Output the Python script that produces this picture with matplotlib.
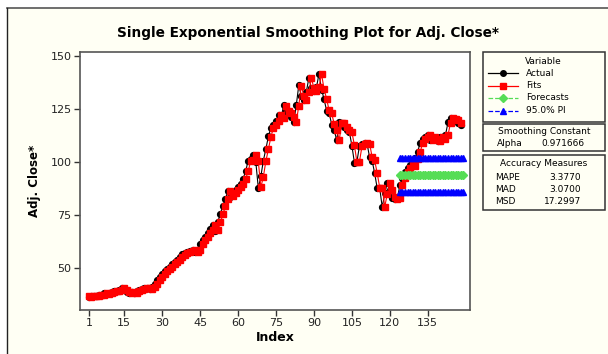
import matplotlib
matplotlib.use("Agg")
import matplotlib.pyplot as plt
from matplotlib.lines import Line2D
from matplotlib.patches import Rectangle

# ---------------- data ----------------
actual = [
    36.2, 36.5, 36.8, 36.4, 37.0, 37.3, 37.8, 37.5, 38.0, 38.4,
    38.8, 39.0, 39.6, 40.2, 39.5, 38.3, 38.0, 38.6, 38.2, 38.8,
    39.5, 40.0, 40.6, 40.2, 39.8,
    41.0, 42.5, 44.0, 45.5, 47.0, 48.5, 49.5, 50.5, 51.8, 52.5,
    53.5, 55.0, 56.2, 56.8, 57.5,
    58.0, 58.5, 57.5, 58.5, 61.0, 63.0, 64.5, 66.5, 68.0, 70.0,
    67.5, 71.5, 75.5, 79.0, 82.5, 86.0, 83.5, 85.0, 86.5, 88.0,
    89.5, 92.0, 95.5, 100.5, 101.0, 103.0, 100.0, 87.5, 93.0, 100.5,
    106.0, 112.0, 116.0, 117.5, 119.0,
    122.0, 120.5, 126.5, 124.0, 123.0, 121.0, 118.5, 126.5, 136.0, 131.0,
    129.0, 133.0, 139.5, 134.5, 133.5, 135.0, 141.5, 134.0, 129.5, 124.0,
    123.0, 117.5, 115.0, 110.0, 118.5,
    118.0, 116.5, 115.0, 114.0, 107.5, 99.5, 100.0, 107.5, 108.5, 109.0,
    108.5, 102.0, 100.5, 94.5, 87.5, 87.5, 78.5, 85.0, 90.0, 86.5,
    83.0, 82.5, 83.0, 89.0,
    92.5, 95.0, 97.0, 98.5, 98.0, 101.5, 104.5, 109.0, 110.5, 111.5,
    112.5, 110.0, 111.5, 110.5, 109.5, 111.5, 110.5, 112.5, 118.5, 120.5,
    120.0, 119.5, 118.0, 117.5,
]
alpha = 0.971666
forecast_start = 124
forecast_end = 149
forecast_level = 93.7
pi_lower_level = 85.6
pi_upper_level = 101.9
mape, mad, msd = "3.3770", "3.0700", "17.2997"
xticks = [1, 15, 30, 45, 60, 75, 90, 105, 120, 135]
yticks = [50, 75, 100, 125, 150]

# fitted values (one-step-ahead single exponential smoothing)
idx = list(range(1, len(actual) + 1))
level = sum(actual[:6]) / 6.0
fits = []
for v in actual:
    fits.append(level)
    level = alpha * v + (1 - alpha) * level

f_idx = list(range(forecast_start, forecast_end + 1))
f_vals = [forecast_level] * len(f_idx)
f_lo = [pi_lower_level] * len(f_idx)
f_hi = [pi_upper_level] * len(f_idx)

# ---------------- figure ----------------
W, H = 608, 354
fig = plt.figure(figsize=(W / 100, H / 100), dpi=100)
fig.patch.set_facecolor("white")
cream = "#fffff4"
fig.patches.append(Rectangle((7 / W, 0), 1, 1 - 8 / H, transform=fig.transFigure,
                             facecolor=cream, edgecolor="none", zorder=-10))
fig.lines.append(Line2D([7 / W, 1], [1 - 8 / H, 1 - 8 / H], transform=fig.transFigure,
                        color="#555555", lw=1.2, zorder=-5))
fig.lines.append(Line2D([7 / W, 7 / W], [0, 1 - 8 / H], transform=fig.transFigure,
                        color="#222222", lw=1.0, zorder=-5))

ax = fig.add_axes([80 / W, 1 - 310 / H, 390 / W, 258 / H])
ax.set_zorder(1)
ax.set_facecolor("white")

ax.plot(idx, actual, color="black", lw=0.8, marker="o", ms=4.2, mfc="black",
        mec="black", zorder=3)
ax.plot(idx, fits, color="red", lw=0.8, marker="s", ms=4.6, mfc="red",
        mec="red", zorder=4)
ax.plot(f_idx, f_lo, color="blue", lw=0.9, ls="--", marker="^", ms=5,
        mfc="blue", mec="blue", zorder=5)
ax.plot(f_idx, f_hi, color="blue", lw=0.9, ls="--", marker="^", ms=5,
        mfc="blue", mec="blue", zorder=5)
ax.plot(f_idx, f_vals, color="#55dd55", lw=0.9, ls="--", marker="D", ms=4.5,
        mfc="#55dd55", mec="#55dd55", zorder=5)

ax.set_xlim(-2.5, 151.7)
ax.set_ylim(30.0, 151.7)
ax.set_xticks(xticks)
ax.set_yticks(yticks)
ax.tick_params(direction="out", length=4, width=1, colors="#333333",
               labelsize=8, labelcolor="#222222", pad=2)
for s in ax.spines.values():
    s.set_color("#555555")
    s.set_linewidth(1.2)

ax.set_xlabel("Index", fontsize=9, fontweight="bold", labelpad=2)
ax.set_ylabel("Adj. Close*", fontsize=8.5, fontweight="bold", labelpad=7)

fig.text(308 / W, 1 - 33 / H, "Single Exponential Smoothing Plot for Adj. Close*",
         ha="center", va="center", fontsize=9.8, fontweight="bold")

# ---------------- legend boxes ----------------
def fx(x):
    return x / W

def fy(y):
    return 1 - y / H

def box(y0, y1):
    fig.patches.append(Rectangle((fx(483), fy(y1)), fx(605) - fx(483), fy(y0) - fy(y1),
                                 transform=fig.transFigure, facecolor="none",
                                 edgecolor="#333333", lw=1.1, zorder=5))

box(52, 122)
box(124, 151)
box(155, 210)

fs = 6.5
fig.text(fx(543), fy(61), "Variable", ha="center", va="center", fontsize=fs)
entries = [
    ("Actual", "black", "-", "o", 4),
    ("Fits", "red", "-", "s", 4.5),
    ("Forecasts", "#55dd55", "--", "D", 4),
    ("95.0% PI", "blue", "--", "^", 4.5),
]
for k, (lab, col, ls, mk, ms) in enumerate(entries):
    yy = 73 + k * 12.5
    fig.lines.append(Line2D([fx(488), fx(518)], [fy(yy), fy(yy)], transform=fig.transFigure,
                            lw=0.9, color=col, ls=ls))
    fig.lines.append(Line2D([fx(503)], [fy(yy)], transform=fig.transFigure, ls="none",
                            marker=mk, ms=ms, mfc=col, mec=col))
    fig.text(fx(526), fy(yy), lab, ha="left", va="center", fontsize=fs)

fig.text(fx(544), fy(132), "Smoothing Constant", ha="center", va="center", fontsize=fs)
fig.text(fx(497), fy(144), "Alpha", ha="left", va="center", fontsize=fs)
fig.text(fx(584), fy(144), f"{alpha:.6f}", ha="right", va="center", fontsize=fs)

fig.text(fx(544), fy(164), "Accuracy Measures", ha="center", va="center", fontsize=fs)
for k, (lab, val) in enumerate([("MAPE", mape), ("MAD", mad), ("MSD", msd)]):
    yy = 177 + k * 12.5
    fig.text(fx(495), fy(yy), lab, ha="left", va="center", fontsize=fs)
    fig.text(fx(581), fy(yy), val, ha="right", va="center", fontsize=fs)

fig.savefig("out.png", dpi=100, facecolor=fig.get_facecolor())
